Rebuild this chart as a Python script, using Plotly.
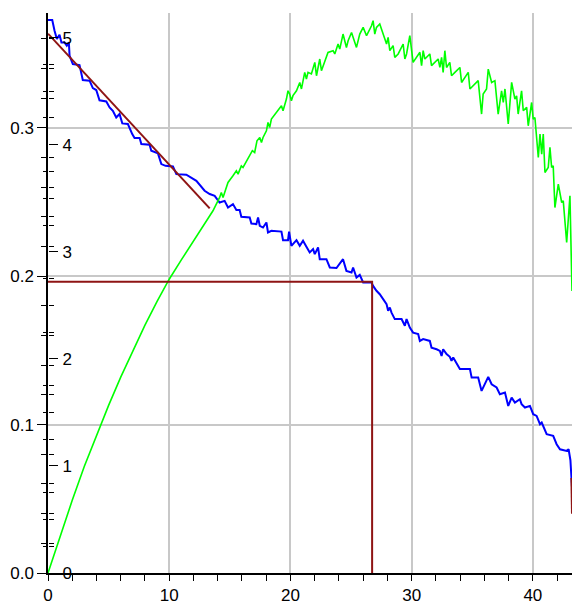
import plotly.graph_objects as go

# ---- data ----
blue_x = [0.0, 0.35, 0.54, 0.73, 0.95, 1.11, 1.36, 1.55, 1.72, 1.78, 2.05, 2.60, 2.87, 3.43, 3.70, 3.98,
          4.25, 4.81, 5.08, 5.35, 5.63, 5.90, 6.13, 6.59, 6.95, 7.14, 7.56, 7.70, 8.38, 8.52, 9.07, 9.35,
          9.70, 10.31, 10.59, 11.41, 12.24, 12.92, 13.34, 13.75, 14.16, 14.57, 14.85, 15.26, 15.54, 15.81,
          15.95, 16.64, 16.78, 17.19, 17.33, 17.47, 17.74, 18.02, 18.15, 18.43, 19.26, 19.39, 19.80, 19.89,
          20.08, 20.50, 20.77, 21.04, 21.32, 21.59, 21.87, 22.01, 22.28, 22.42, 22.97, 23.25, 23.80, 24.07,
          24.34, 24.62, 25.04, 25.17, 25.45, 25.72, 26.00, 26.69, 26.82, 27.10, 27.37, 27.65, 27.93, 28.06,
          28.20, 28.34, 28.61, 29.17, 29.44, 29.58, 29.85, 30.12, 30.54, 30.68, 30.95, 31.50, 31.64, 32.06,
          32.33, 32.47, 32.60, 32.88, 33.15, 33.29, 33.43, 33.98, 34.81, 34.95, 35.49, 35.77, 36.04, 36.32,
          36.60, 37.01, 37.28, 37.70, 37.97, 38.25, 38.52, 38.93, 39.07, 39.35, 39.76, 40.03, 40.31, 40.59,
          40.73, 41.14, 41.68, 41.96, 42.24, 42.79, 42.95, 43.10, 43.23]
blue_y = [0.3727, 0.3727, 0.3655, 0.3599, 0.3628, 0.3576, 0.3576, 0.3554, 0.3576, 0.3486, 0.3430, 0.3423,
          0.3322, 0.3318, 0.3268, 0.3255, 0.3186, 0.3178, 0.3138, 0.3115, 0.3070, 0.3093, 0.3030, 0.3026,
          0.2958, 0.2931, 0.2931, 0.2891, 0.2886, 0.2846, 0.2828, 0.2756, 0.2744, 0.2740, 0.2688, 0.2684,
          0.2643, 0.2576, 0.2554, 0.2542, 0.2497, 0.2508, 0.2463, 0.2486, 0.2446, 0.2446, 0.2401, 0.2396,
          0.2355, 0.2351, 0.2396, 0.2340, 0.2328, 0.2362, 0.2295, 0.2306, 0.2301, 0.2243, 0.2243, 0.2301,
          0.2205, 0.2243, 0.2205, 0.2239, 0.2198, 0.2160, 0.2183, 0.2149, 0.2194, 0.2115, 0.2115, 0.2059,
          0.2055, 0.2082, 0.2115, 0.2036, 0.2025, 0.2059, 0.1991, 0.2009, 0.1958, 0.1958, 0.1935, 0.1902,
          0.1879, 0.1846, 0.1812, 0.1767, 0.1789, 0.1755, 0.1711, 0.1711, 0.1666, 0.1711, 0.1654, 0.1620,
          0.1610, 0.1564, 0.1576, 0.1564, 0.1519, 0.1508, 0.1497, 0.1463, 0.1508, 0.1475, 0.1457, 0.1430,
          0.1452, 0.1374, 0.1374, 0.1317, 0.1317, 0.1227, 0.1272, 0.1322, 0.1272, 0.1250, 0.1205, 0.1216,
          0.1126, 0.1182, 0.1148, 0.1171, 0.1138, 0.1115, 0.1126, 0.1070, 0.1059, 0.1003, 0.1014, 0.0935,
          0.0924, 0.0868, 0.0834, 0.0823, 0.0834, 0.0760, 0.0580]

green_x = [0.0, 1.0, 2.0, 3.0, 4.0, 5.0, 6.0, 7.0, 8.0, 9.0, 10.0, 11.0, 12.0, 12.6, 13.2, 13.61, 14.16,
           14.30, 14.44, 14.85, 15.26, 15.54, 15.68, 15.95, 16.09, 16.64, 16.86, 17.05, 17.24, 17.47, 17.61,
           17.74, 18.02, 18.15, 18.29, 18.43, 18.84, 19.26, 19.39, 19.67, 19.80, 19.94, 20.08, 20.21, 20.50,
           20.77, 20.91, 21.18, 21.32, 21.45, 21.73, 22.01, 22.15, 22.28, 22.42, 22.56, 22.83, 23.10, 23.52,
           23.66, 23.93, 24.07, 24.34, 24.62, 24.76, 25.04, 25.45, 25.72, 26.00, 26.28, 26.69, 26.82, 26.96,
           27.10, 27.37, 27.65, 27.93, 28.06, 28.20, 28.47, 28.61, 28.89, 29.30, 29.44, 29.58, 29.85, 29.99,
           30.12, 30.68, 30.82, 30.95, 31.09, 31.50, 31.64, 32.19, 32.33, 32.47, 32.60, 32.74, 32.88, 33.15,
           33.29, 33.57, 33.98, 34.12, 34.67, 34.81, 35.22, 35.49, 35.77, 35.90, 36.18, 36.32, 36.60, 36.87,
           37.14, 37.42, 37.56, 37.70, 37.97, 38.25, 38.52, 38.66, 38.79, 39.07, 39.21, 39.49, 39.62, 39.90,
           40.03, 40.17, 40.45, 40.59, 40.73, 40.86, 41.00, 41.27, 41.41, 41.55, 41.68, 41.82, 42.10, 42.38,
           42.51, 42.79, 43.06, 43.23]
green_y = [0.0, 0.0250, 0.0490, 0.0720, 0.0930, 0.1130, 0.1320, 0.1500, 0.1670, 0.1830, 0.1980, 0.2110,
           0.2240, 0.2310, 0.2395, 0.2441, 0.2531, 0.2565, 0.2531, 0.2632, 0.2677, 0.2711, 0.2688, 0.2744,
           0.2733, 0.2812, 0.2846, 0.2834, 0.2913, 0.2935, 0.2902, 0.2935, 0.2980, 0.3036, 0.3003, 0.3059,
           0.3104, 0.3149, 0.3115, 0.3194, 0.3250, 0.3228, 0.3183, 0.3217, 0.3250, 0.3306, 0.3262, 0.3374,
           0.3329, 0.3374, 0.3363, 0.3441, 0.3351, 0.3407, 0.3464, 0.3385, 0.3452, 0.3508, 0.3520, 0.3498,
           0.3565, 0.3531, 0.3632, 0.3542, 0.3587, 0.3643, 0.3542, 0.3632, 0.3677, 0.3621, 0.3688, 0.3722,
           0.3632, 0.3677, 0.3700, 0.3632, 0.3565, 0.3610, 0.3520, 0.3554, 0.3475, 0.3498, 0.3565, 0.3464,
           0.3498, 0.3621, 0.3520, 0.3441, 0.3509, 0.3419, 0.3520, 0.3464, 0.3498, 0.3419, 0.3464, 0.3407,
           0.3475, 0.3374, 0.3520, 0.3407, 0.3441, 0.3351, 0.3374, 0.3407, 0.3306, 0.3374, 0.3262, 0.3295,
           0.3318, 0.3093, 0.3228, 0.3262, 0.3396, 0.3306, 0.3318, 0.3093, 0.3250, 0.3171, 0.3262, 0.3026,
           0.3306, 0.3194, 0.3216, 0.3093, 0.3250, 0.3115, 0.3138, 0.3014, 0.3171, 0.3059, 0.3070, 0.2800,
           0.2958, 0.2823, 0.2958, 0.2699, 0.2733, 0.2868, 0.2733, 0.2744, 0.2463, 0.2621, 0.2497, 0.2508,
           0.2227, 0.2542, 0.1900]

tangent_x = [0.0, 13.34]
tangent_y = [0.3635, 0.2457]
mpp_x = [0.0, 26.74, 26.74]
mpp_y = [0.1963, 0.1963, 0.0]
end_x = [43.18, 43.23]
end_y = [0.064, 0.040]

x_ticks = [0, 10, 20, 30, 40]
y1_ticks = [0.0, 0.1, 0.2, 0.3]
y1_labels = ["0.0", "0.1", "0.2", "0.3"]
y2_ticks = [0, 1, 2, 3, 4, 5]

# ---- figure ----
X_MAX = 43.23
Y1_MAX = 0.3774
Y2_MAX = 5.23
FONT = "Liberation Sans, Arial, sans-serif"
DARKRED = "#8E1414"

fig = go.Figure()
fig.add_trace(go.Scatter(x=blue_x, y=blue_y, mode="lines",
                         line=dict(color="#0000FF", width=2), hoverinfo="skip"))
fig.add_trace(go.Scatter(x=green_x, y=green_y, mode="lines",
                         line=dict(color="#00FF00", width=1.6), hoverinfo="skip"))
fig.add_trace(go.Scatter(x=tangent_x, y=tangent_y, mode="lines",
                         line=dict(color=DARKRED, width=2), hoverinfo="skip"))
fig.add_trace(go.Scatter(x=mpp_x, y=mpp_y, mode="lines",
                         line=dict(color=DARKRED, width=2), hoverinfo="skip"))
fig.add_trace(go.Scatter(x=end_x, y=end_y, mode="lines",
                         line=dict(color=DARKRED, width=2), hoverinfo="skip"))
# empty traces so the overlaid tick axes get drawn
for ax in ["y2", "y3", "y4"]:
    fig.add_trace(go.Scatter(x=[None], y=[None], yaxis=ax, mode="lines",
                             hoverinfo="skip", showlegend=False))

y1_minor = [round(i * 0.02, 3) for i in range(1, 19) if i % 5 != 0]
y2_minor = [i * 0.25 for i in range(1, 21) if i % 4 != 0]

TICK = dict(tickwidth=1.3, tickcolor="black")

fig.update_layout(
    width=572, height=612,
    margin=dict(l=48, r=0, t=13, b=39),
    paper_bgcolor="white", plot_bgcolor="white",
    showlegend=False,
    font=dict(family=FONT, size=17, color="black"),
    xaxis=dict(range=[0, X_MAX], tickmode="array", tickvals=x_ticks, automargin=False,
               showgrid=True, gridcolor="#C8C8C8", gridwidth=1.6,
               showline=True, linecolor="black", linewidth=1.5,
               ticks="outside", ticklen=6, **TICK,
               minor=dict(dtick=2, ticks="outside", ticklen=6, showgrid=False, **TICK),
               zeroline=False, tickfont=dict(size=17, color="black"), fixedrange=True),
    # left value axis (0.0 .. 0.3)
    yaxis=dict(range=[0, Y1_MAX], tickmode="array", tickvals=y1_ticks, ticktext=y1_labels,
               automargin=False,
               showgrid=True, gridcolor="#C8C8C8", gridwidth=1.6,
               showline=True, linecolor="black", linewidth=1.5,
               ticks="outside", ticklen=9, **TICK,
               minor=dict(dtick=0.02, tick0=0, ticks="outside", ticklen=5, showgrid=False, **TICK),
               zeroline=False, tickfont=dict(size=17, color="black"), fixedrange=True),
    # second scale (0 .. 5) drawn on the same line, ticks and labels to the right
    yaxis2=dict(range=[0, Y2_MAX], overlaying="y", side="right", anchor="free", position=0,
                automargin=False, tickmode="array", tickvals=y2_ticks,
                showgrid=False, showline=False, zeroline=False,
                ticks="outside", ticklen=9, **TICK, ticklabelstandoff=1,
                minor=dict(tickvals=y2_minor, ticks="outside", ticklen=5, showgrid=False, **TICK),
                tickfont=dict(size=17, color="black"), fixedrange=True),
    # extra minor tick halves so minor ticks cross the axis line
    yaxis3=dict(range=[0, Y1_MAX], overlaying="y", side="right", anchor="free", position=0,
                automargin=False, tickmode="array", tickvals=y1_minor, showticklabels=False,
                showgrid=False, showline=False, zeroline=False,
                ticks="outside", ticklen=5, **TICK, fixedrange=True),
    yaxis4=dict(range=[0, Y2_MAX], overlaying="y", side="left", anchor="free", position=0,
                automargin=False, tickmode="array", tickvals=y2_minor, showticklabels=False,
                showgrid=False, showline=False, zeroline=False,
                ticks="outside", ticklen=5, **TICK, fixedrange=True),
)

fig.write_html("out.html", config={"displayModeBar": False},
               post_script="document.body.style.margin='0';document.body.style.overflow='hidden';")
